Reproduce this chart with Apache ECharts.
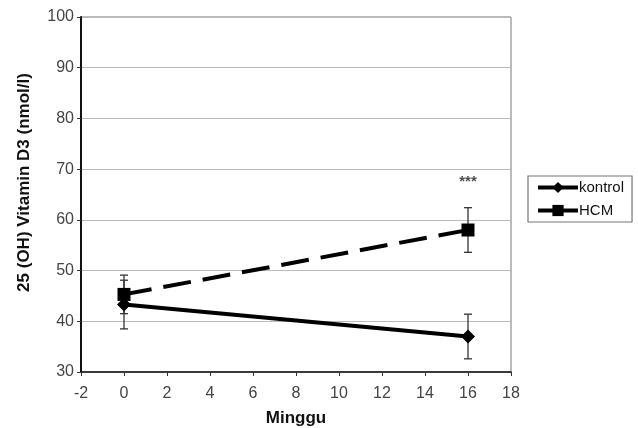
<!DOCTYPE html>
<html><head><meta charset="utf-8">
<script src="https://cdn.jsdelivr.net/npm/echarts@6/dist/echarts.min.js"></script>
<style>html,body{margin:0;padding:0;background:#fff}#c{width:638px;height:428px}</style>
</head><body><div id="c"></div>
<script>
var weeks = [0, 16];
var kontrol = [43.3, 37.0];
var kontrolErr = [4.8, 4.4];
var hcm = [45.3, 58.0];
var hcmErr = [3.8, 4.4];
var annotation = {x: 16, y: 67.4, text: '***'};

var chart = echarts.init(document.getElementById('c'));
function errData(vals, errs) {
  return weeks.map(function (w, i) { return [w, vals[i] - errs[i], vals[i] + errs[i]]; });
}
function errRender(params, api) {
  var x = api.value(0);
  var lo = api.coord([x, api.value(1)]);
  var hi = api.coord([x, api.value(2)]);
  var c = 4;
  var st = {stroke: '#333', lineWidth: 1.3};
  return {type: 'group', children: [
    {type: 'line', shape: {x1: lo[0], y1: lo[1], x2: hi[0], y2: hi[1]}, style: st},
    {type: 'line', shape: {x1: lo[0]-c, y1: lo[1], x2: lo[0]+c, y2: lo[1]}, style: st},
    {type: 'line', shape: {x1: hi[0]-c, y1: hi[1], x2: hi[0]+c, y2: hi[1]}, style: st}
  ]};
}
var font = 'Liberation Sans, Arial, sans-serif';
chart.setOption({
  animation: false,
  grid: {left: 81, right: 127, top: 17, bottom: 56, show: true, borderColor: '#777', borderWidth: 1,
         outerBoundsMode: 'none', containLabel: false},
  legend: {
    orient: 'vertical', left: 528, top: 176,
    padding: [4, 8, 4, 8], itemGap: 8, itemWidth: 40, itemHeight: 14,
    borderColor: '#777', borderWidth: 1.2, borderRadius: 0,
    textStyle: {fontFamily: font, fontSize: 15, color: '#111', padding: [0, 0, 0, -4]},
    data: [
      {name: 'kontrol', lineStyle: {type: 'solid', width: 4}},
      {name: 'HCM', lineStyle: {type: 'solid', width: 4}}
    ]
  },
  xAxis: {
    type: 'value', min: -2, max: 18, interval: 2,
    name: 'Minggu', nameLocation: 'middle', nameGap: 38,
    nameTextStyle: {fontFamily: font, fontSize: 17, fontWeight: 'bold', color: '#111'},
    axisLine: {onZero: false, lineStyle: {color: '#111', width: 1.5}},
    axisTick: {show: true, length: 4, lineStyle: {color: '#333'}},
    axisLabel: {fontFamily: font, fontSize: 16, color: '#444', margin: 14},
    splitLine: {show: false}
  },
  yAxis: {
    type: 'value', min: 30, max: 100, interval: 10,
    name: '25 (OH) Vitamin D3 (nmol/l)', nameLocation: 'middle', nameGap: 48,
    nameTextStyle: {fontFamily: font, fontSize: 17, fontWeight: 'bold', color: '#111', padding: [0, 0, 0, 24]},
    axisLine: {show: true, onZero: false, lineStyle: {color: '#111', width: 2}},
    axisTick: {show: true, length: 4, lineStyle: {color: '#333'}},
    axisLabel: {fontFamily: font, fontSize: 16, color: '#444', margin: 7},
    splitLine: {show: true, lineStyle: {color: '#bbb', width: 1}}
  },
  series: [
    {type: 'custom', name: 'errK', renderItem: errRender, data: errData(kontrol, kontrolErr), z: 1, silent: true},
    {type: 'custom', name: 'errH', renderItem: errRender, data: errData(hcm, hcmErr), z: 1, silent: true},
    {type: 'line', name: 'kontrol', data: weeks.map(function (w, i) { return [w, kontrol[i]]; }),
     symbol: 'diamond', symbolSize: 14, showSymbol: true,
     lineStyle: {color: '#000', width: 4}, itemStyle: {color: '#000'}, z: 3},
    {type: 'line', name: 'HCM', data: weeks.map(function (w, i) { return [w, hcm[i]]; }),
     symbol: 'rect', symbolSize: 13, showSymbol: true,
     lineStyle: {color: '#000', width: 4, type: [28, 12]}, itemStyle: {color: '#000'}, z: 3},
    {type: 'scatter', name: 'sig', data: [[annotation.x, annotation.y]], symbolSize: 0, silent: true,
     label: {show: true, position: 'inside', formatter: annotation.text, fontFamily: font, fontSize: 15, fontWeight: 'bold', color: '#222'}}
  ]
});
</script></body></html>
